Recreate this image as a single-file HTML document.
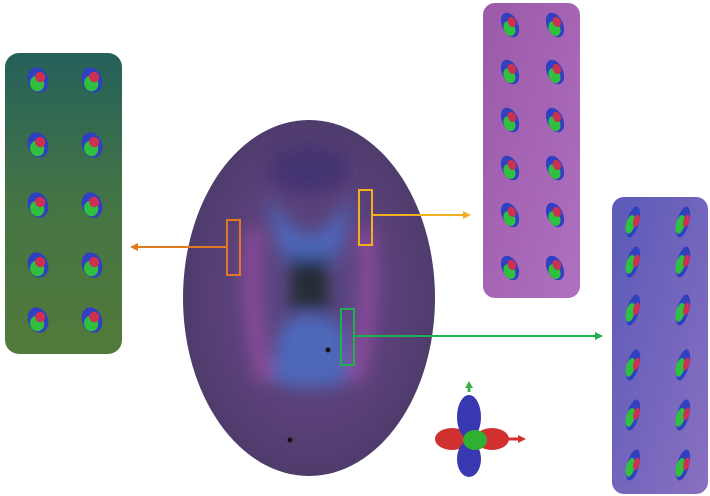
<!DOCTYPE html>
<html><head><meta charset="utf-8"><style>
html,body{margin:0;padding:0;background:#fff;width:710px;height:496px;overflow:hidden}
svg{display:block}
</style></head><body>
<svg width="710" height="496" viewBox="0 0 710 496">
<defs>
<linearGradient id="gl" x1="0" y1="0" x2="0" y2="1"><stop offset="0" stop-color="#25605a"/><stop offset="0.5" stop-color="#457545"/><stop offset="1" stop-color="#527a3a"/></linearGradient>
<linearGradient id="gr1" x1="0" y1="0" x2="1" y2="1"><stop offset="0" stop-color="#9a5aa8"/><stop offset="1" stop-color="#b070c0"/></linearGradient>
<linearGradient id="gr2" x1="0" y1="0" x2="1" y2="1"><stop offset="0" stop-color="#5a5ab8"/><stop offset="1" stop-color="#8a70c0"/></linearGradient>
<radialGradient id="br" cx="0.5" cy="0.5" r="0.5"><stop offset="0" stop-color="#5a4a88"/><stop offset="0.7" stop-color="#5a4078"/><stop offset="1" stop-color="#4e3c6c"/></radialGradient>
<filter id="blur" x="-20%" y="-20%" width="140%" height="140%"><feGaussianBlur stdDeviation="8"/></filter>
<clipPath id="bc"><ellipse cx="309" cy="298" rx="126" ry="178"/></clipPath>
</defs>
<rect x="5" y="53" width="117" height="301" rx="14" fill="url(#gl)"/>
<rect x="483" y="3" width="97" height="295" rx="12" fill="url(#gr1)"/>
<rect x="612" y="197" width="96" height="297" rx="12" fill="url(#gr2)"/>
<g id="glyphs"></g>
<ellipse cx="309" cy="298" rx="126" ry="178" fill="url(#br)"/>
<g clip-path="url(#bc)"><g filter="url(#blur)">
<path d="M265 195 Q300 240 309 235 Q320 240 355 195 L340 250 Q320 275 309 275 Q300 275 280 250Z" fill="#4a70c8" opacity="0.8"/>
<path d="M280 330 Q309 300 345 330 L350 380 Q309 395 270 380Z" fill="#4a70c8" opacity="0.8"/>
<path d="M292 250 Q309 270 325 250 L330 315 Q309 300 290 315Z" fill="#1e2a2a" opacity="0.9"/>
<path d="M255 230 Q245 300 265 380" stroke="#b050b0" stroke-width="16" fill="none" opacity="0.6"/>
<path d="M365 230 Q375 300 355 380" stroke="#b050b0" stroke-width="16" fill="none" opacity="0.6"/>
<ellipse cx="309" cy="170" rx="40" ry="25" fill="#3a3070" opacity="0.7"/>
</g></g>
<circle cx="328" cy="350" r="2.5" fill="#111"/>
<circle cx="290" cy="440" r="2.5" fill="#111"/>
<rect x="227" y="220" width="13" height="55" fill="none" stroke="#e07a20" stroke-width="2"/>
<line x1="227" y1="247" x2="136" y2="247" stroke="#e07a20" stroke-width="2"/>
<polygon points="130,247 138,243 138,251" fill="#e07a20"/>
<rect x="359" y="190" width="13" height="55" fill="none" stroke="#f0b020" stroke-width="2"/>
<line x1="372" y1="215" x2="464" y2="215" stroke="#f0b020" stroke-width="2"/>
<polygon points="471,215 463,211 463,219" fill="#f0b020"/>
<rect x="341" y="309" width="13" height="56" fill="none" stroke="#20b050" stroke-width="2"/>
<line x1="354" y1="336" x2="596" y2="336" stroke="#20b050" stroke-width="2"/>
<polygon points="603,336 595,332 595,340" fill="#20b050"/>
<g>
<line x1="469" y1="392" x2="469" y2="385" stroke="#40b040" stroke-width="3"/><polygon points="469,381 465,388 473,388" fill="#40b040"/>
<ellipse cx="452" cy="439" rx="17" ry="11" fill="#d03030"/><ellipse cx="492" cy="439" rx="17" ry="11" fill="#d03030"/>
<ellipse cx="469" cy="417" rx="12" ry="22" fill="#3838b0"/><ellipse cx="469" cy="459" rx="12" ry="18" fill="#3838b0"/>
<ellipse cx="475" cy="440" rx="12" ry="10" fill="#30b030"/>
<line x1="508" y1="439" x2="520" y2="439" stroke="#d03030" stroke-width="3"/><polygon points="526,439 518,435 518,443" fill="#d03030"/>
</g>
</svg>
<script>
const leftCols=[38,92], leftRows=[80,145,205,265,320];
const tr1Cols=[510,555], tr1Rows=[25,72,120,168,215,268];
const tr2Cols=[633,683], tr2Rows=[222,262,310,365,415,465];
const g=document.getElementById('glyphs');
const ns='http://www.w3.org/2000/svg';
function glyph(x,y,rx,ry,rot){
  const grp=document.createElementNS(ns,'g');
  
  
  grp.setAttribute('transform','translate('+x+','+y+') rotate('+rot+')');
  [['#3040c0',0,0,rx,ry],['#30c040',-2,3,rx*0.7,ry*0.6],['#d03050',3,-2,rx*0.5,ry*0.4]].forEach(function(c){
    const e=document.createElementNS(ns,'ellipse');
    e.setAttribute('cx',c[1]);e.setAttribute('cy',c[2]);e.setAttribute('rx',c[3]);e.setAttribute('ry',c[4]);e.setAttribute('fill',c[0]);
    grp.appendChild(e);
  });
  g.appendChild(grp);
}
leftRows.forEach(function(y){leftCols.forEach(function(x){glyph(x,y,10,13,-20);});});
tr1Rows.forEach(function(y){tr1Cols.forEach(function(x){glyph(x,y,8,13,-25);});});
tr2Rows.forEach(function(y){tr2Cols.forEach(function(x){glyph(x,y,6,16,15);});});
</script>
</body></html>
